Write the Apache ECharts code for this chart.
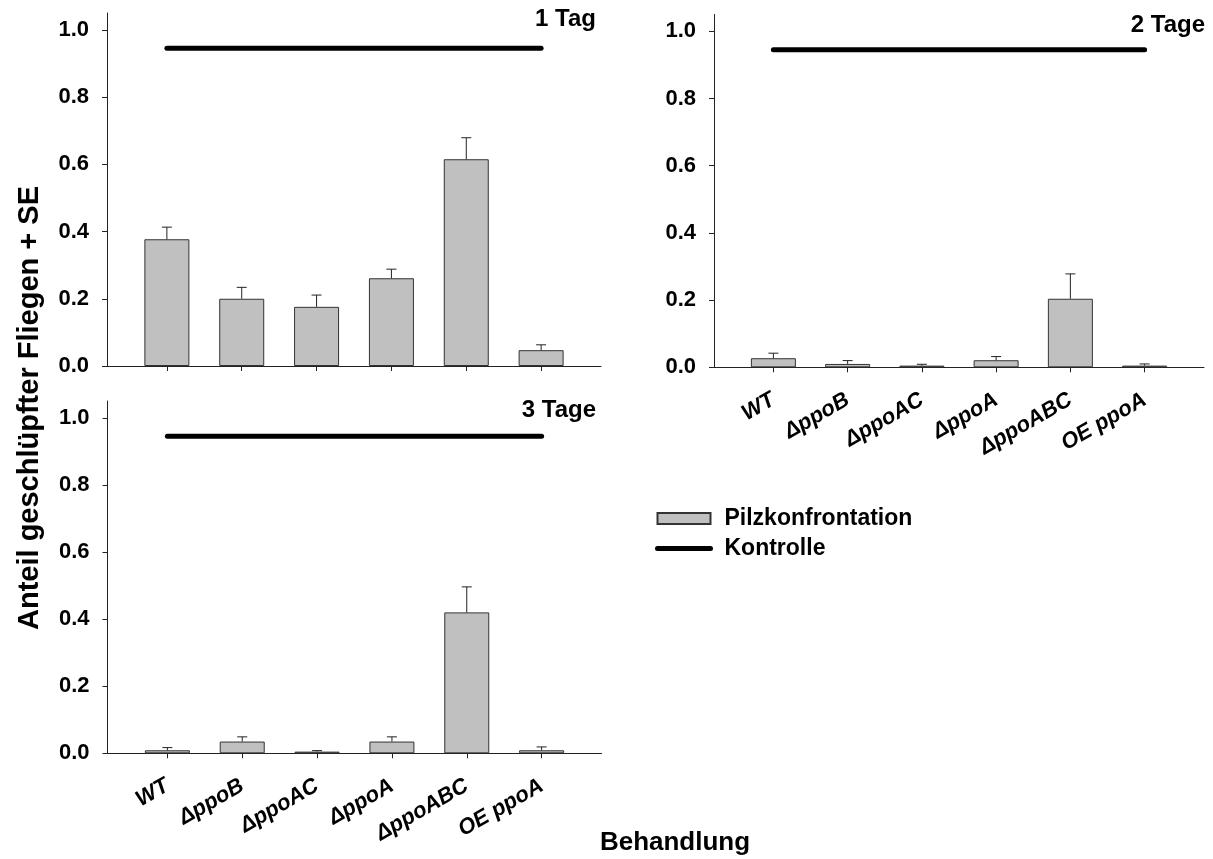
<!DOCTYPE html>
<html><head><meta charset="utf-8">
<script src="https://cdn.jsdelivr.net/npm/echarts@6/dist/echarts.min.js"></script>
<style>html,body{margin:0;padding:0;background:#fff}#c{width:1213px;height:859px}</style>
</head><body><div id="c"></div>
<script>
// ---- data ----
const categories = ['WT', 'ΔppoB', 'ΔppoAC', 'ΔppoA', 'ΔppoABC', 'OE ppoA'];
const yTickValues = [0, 0.2, 0.4, 0.6, 0.8, 1.0];
const panelTitles = ['1 Tag', '2 Tage', '3 Tage'];
const seriesNames = ['Pilzkonfrontation', 'Kontrolle'];
const day1Values = [0.377, 0.200, 0.176, 0.261, 0.615, 0.047];
const day1SE     = [0.036, 0.034, 0.035, 0.027, 0.064, 0.016];
const day2Values = [0.027, 0.010, 0.005, 0.021, 0.204, 0.005];
const day2SE     = [0.015, 0.010, 0.004, 0.011, 0.074, 0.005];
const day3Values = [0.009, 0.035, 0.005, 0.035, 0.420, 0.009];
const day3SE     = [0.008, 0.014, 0.003, 0.014, 0.076, 0.010];
const controlValues = [0.945, 0.945, 0.945];

// ---- layout / style ----
const FONT = '"Liberation Sans", Arial, Helvetica, sans-serif';
const panels = [
  {values: day1Values, se: day1SE, grid: {left: 107, top: 13, width: 494, height: 353}, showLabels: false,
   title: {right: 617, top: 7}},
  {values: day2Values, se: day2SE, grid: {left: 714, top: 14.5, width: 490, height: 352.8}, showLabels: true,
   title: {right: 8, top: 13}},
  {values: day3Values, se: day3SE, grid: {left: 107.5, top: 401, width: 494, height: 352.3}, showLabels: true,
   title: {right: 617, top: 398}}
];
const positions = categories.map((c, i) => i + 1);
const axisColor = '#222';

const option = {
  animation: false,
  backgroundColor: '#fff',
  textStyle: {fontFamily: FONT},
  title: panels.map((p, i) => ({
    text: panelTitles[i], right: p.title.right, top: p.title.top, padding: 0,
    textStyle: {fontFamily: FONT, fontWeight: 'bold', fontSize: 24, color: '#000'}
  })),
  grid: panels.map(p => Object.assign({}, p.grid)),
  xAxis: panels.map((p, i) => ({
    type: 'value', gridIndex: i, min: 0.2, max: 6.8,
    axisLine: {show: true, onZero: false, lineStyle: {color: axisColor, width: 1}},
    axisTick: {show: true, length: 5, customValues: positions, lineStyle: {color: axisColor}},
    splitLine: {show: false},
    axisLabel: {
      show: p.showLabels, customValues: positions, rotate: 30, margin: 31,
      fontFamily: FONT, fontWeight: 'bold', fontStyle: 'italic', fontSize: 22, color: '#000',
      formatter: v => categories[Math.round(v) - 1] || ''
    }
  })),
  yAxis: panels.map((p, i) => ({
    type: 'value', gridIndex: i, min: 0, max: 1.05,
    axisLine: {show: true, lineStyle: {color: axisColor, width: 1}},
    axisTick: {show: true, length: 5, customValues: yTickValues, lineStyle: {color: axisColor}},
    splitLine: {show: false},
    axisLabel: {
      customValues: yTickValues, margin: 18,
      fontFamily: FONT, fontWeight: 'bold', fontSize: 22, color: '#000',
      formatter: v => v.toFixed(1)
    }
  })),
  legend: {
    left: 655, top: 507, orient: 'vertical', itemWidth: 53, itemHeight: 11, itemGap: 7,
    padding: 0,
    lineStyle: {width: 5, cap: 'round', color: '#000'},
    textStyle: {fontFamily: FONT, fontWeight: 'bold', fontSize: 23, color: '#000', padding: [0, 0, 0, 9]},
    data: [
      {name: seriesNames[0], icon: 'rect'},
      {name: seriesNames[1], itemStyle: {opacity: 0}, lineStyle: {width: 5, cap: 'round', color: '#000'}}
    ]
  },
  series: [],
  graphic: [
    {type: 'text', x: 30, y: 408, rotation: Math.PI / 2,
     style: {text: 'Anteil geschlüpfter Fliegen + SE', font: 'bold 29px ' + FONT, fill: '#000',
             align: 'center', verticalAlign: 'middle', textAlign: 'center', textVerticalAlign: 'middle'}},
    {type: 'text', x: 675, y: 843,
     style: {text: 'Behandlung', font: 'bold 26px ' + FONT, fill: '#000',
             align: 'center', verticalAlign: 'middle', textAlign: 'center', textVerticalAlign: 'middle'}}
  ]
};

panels.forEach((p, i) => {
  option.series.push({
    name: seriesNames[0], type: 'bar', xAxisIndex: i, yAxisIndex: i, barWidth: 45,
    itemStyle: {color: '#c0c0c0', borderColor: '#333', borderWidth: 1},
    data: p.values.map((v, k) => [positions[k], v]),
    z: 2
  });
  option.series.push({
    type: 'custom', xAxisIndex: i, yAxisIndex: i, silent: true, z: 3,
    data: p.values.map((v, k) => [positions[k], v, v + p.se[k]]),
    renderItem: (params, api) => {
      const x = api.value(0), v = api.value(1), t = api.value(2);
      const p0 = api.coord([x, v]);
      const p1 = api.coord([x, t]);
      const hw = 5;
      return {type: 'group', children: [
        {type: 'line', shape: {x1: p0[0], y1: p0[1], x2: p1[0], y2: p1[1]}, style: {stroke: '#222', lineWidth: 1}},
        {type: 'line', shape: {x1: p1[0] - hw, y1: p1[1], x2: p1[0] + hw, y2: p1[1]}, style: {stroke: '#222', lineWidth: 1}}
      ]};
    }
  });
  option.series.push({
    name: seriesNames[1], type: 'line', xAxisIndex: i, yAxisIndex: i, symbol: 'none',
    lineStyle: {color: '#000', width: 5, cap: 'round'},
    itemStyle: {color: '#000'},
    data: [[positions[0], controlValues[i]], [positions[positions.length - 1], controlValues[i]]],
    z: 4
  });
});

const chart = echarts.init(document.getElementById('c'), null, {renderer: 'canvas'});
chart.setOption(option);
</script>
</body></html>
